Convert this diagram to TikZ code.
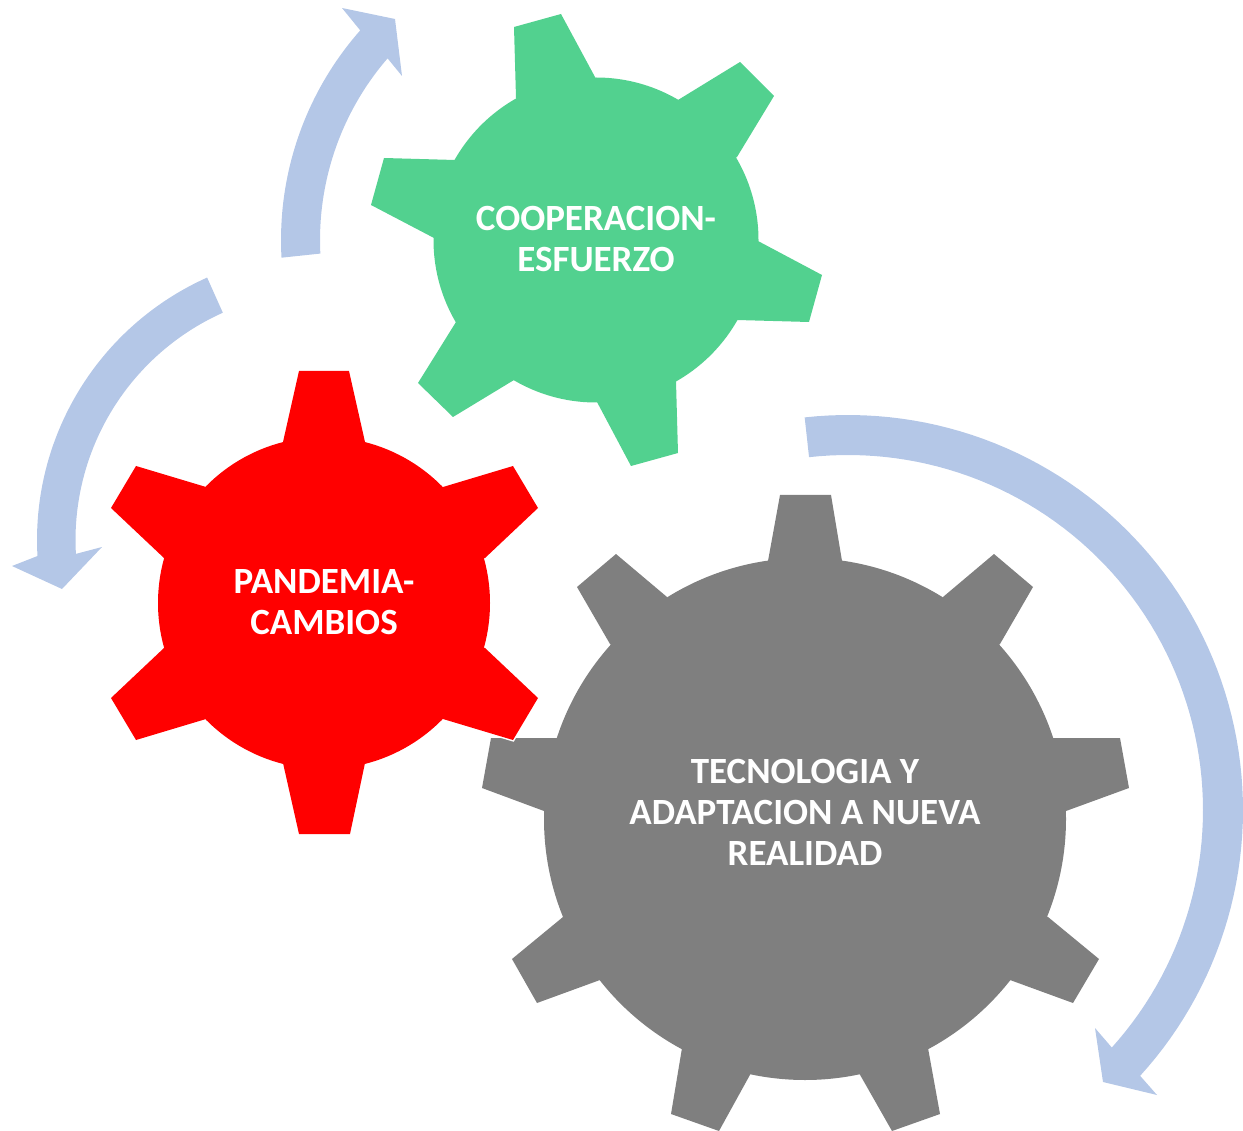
\documentclass[tikz,border=0pt]{standalone}
\usepackage{fontspec}
\setmainfont{Carlito}
\definecolor{arrowblue}{HTML}{B4C7E7}
\definecolor{greengear}{HTML}{52D18F}
\definecolor{redgear}{HTML}{FF0000}
\definecolor{graygear}{HTML}{7F7F7F}
\tikzset{
  geartext/.style={text=white,font=\fontsize{37}{41}\selectfont\bfseries,align=center},
  arrowshape/.style={fill=arrowblue,draw=none}
}
% #1 colour, #2 centre, #3 list of teeth: each polygon closes through the centre
\newcommand{\gearteeth}[3]{\foreach \pts in {#3}{\fill[#1] plot coordinates \pts -- #2 -- cycle;}}
\begin{document}
\begin{tikzpicture}[x=1pt,y=-1pt]
\useasboundingbox (0,0) rectangle (1243,1131);
% arrows
\fill[arrowshape] plot[domain=-96.3:42.3,samples=80] ({848+395*cos(\x)},{810+395*sin(\x)})
  -- (1157,1095) -- (1103,1082) -- (1095,1028)
  -- plot[domain=42:-96.3,samples=80] ({848+355*cos(\x)},{810+355*sin(\x)}) -- cycle;
\fill[arrowshape] plot[domain=176.8:221.4,samples=40] ({598+317*cos(\x)},{240+317*sin(\x)})
  -- (342,8) -- (395,19) -- (402,76)
  -- plot[domain=220.8:177.2,samples=40] ({598+278*cos(\x)},{240+278*sin(\x)}) -- cycle;
\fill[arrowshape] plot[domain=245.9:176.8,samples=50] ({324.5+287.5*cos(\x)},{540+287.5*sin(\x)})
  -- (12,566) -- (62,589) -- (102,547)
  -- plot[domain=176.8:245.9,samples=50] ({324.5+249*cos(\x)},{540+249*sin(\x)}) -- cycle;
% gray gear
\fill[graygear] (805,819) circle[radius=261];
\gearteeth{graygear}{(805,819)}{
 {(768,561)(780,495)(831,495)(842,561)},
 {(943,597)(994,554)(1033,587)(1000,644)},
 {(1053,738)(1120,738)(1129,788)(1066,811)},
 {(1048,917)(1099,959)(1073,1003)(1010,980)},
 {(928,1048)(940,1114)(892,1131)(859,1073)},
 {(751,1073)(719,1131)(671,1114)(682,1048)},
 {(600,980)(537,1003)(512,959)(563,917)},
 {(544,811)(482,788)(491,738)(557,738)},
 {(610,644)(577,587)(616,554)(667,597)}}
% red gear, with its thin white edge over the gray gear
\draw[white,line width=3pt,miter limit=10] (443,719) -- (513,740) -- (538,698);
\fill[redgear] (324,603) circle[radius=166];
\gearteeth{redgear}{(324,603)}{
 {(283,442)(299,371)(349,371)(365,442)},
 {(443,487)(513,466)(538,508)(485,558)},
 {(485,648)(538,698)(513,740)(443,719)},
 {(365,763)(350,834)(299,834)(283,763)},
 {(206,719)(136,740)(111,698)(164,648)},
 {(164,558)(111,508)(136,466)(206,487)}}
% green gear
\fill[greengear] (596,240) circle[radius=162.5];
\gearteeth{greengear}{(596,240)}{
 {(516,98)(514,27)(561,14)(595,77)},
 {(678,100)(740,62)(774,96)(737,157)},
 {(758,241)(822,275)(809,322)(737,320)},
 {(676,381)(678,453)(631,466)(597,402)},
 {(514,380)(453,417)(418,383)(456,322)},
 {(434,238)(371,205)(384,158)(455,160)}}
% labels
\node[geartext] (cooperacion) at (596,239) {COOPERACION-\\ESFUERZO};
\node[geartext] (pandemia) at (324,602.5) {PANDEMIA-\\CAMBIOS};
\node[geartext] (tecnologia) at (805,812.5) {TECNOLOGIA Y\\ADAPTACION A NUEVA\\REALIDAD};
\end{tikzpicture}
\end{document}
